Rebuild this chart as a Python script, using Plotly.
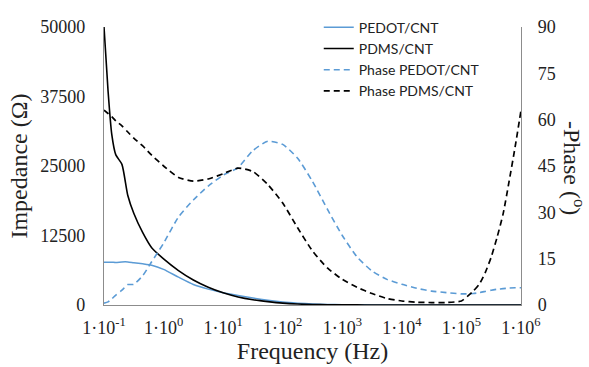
import plotly.graph_objects as go

# Frequency points (Hz)
freq = [0.1, 0.117, 0.135, 0.158, 0.2, 0.251, 0.316, 0.447, 0.631, 1, 1.78, 3.16, 5.62,
        10, 17.8, 31.6, 56.2, 100, 178, 316, 562, 1000, 1780, 3160, 5620,
        1e4, 1.78e4, 3.16e4, 5.62e4, 1e5, 1.26e5, 1.58e5, 2e5, 2.51e5, 3.16e5,
        3.98e5, 5.01e5, 6.31e5, 7.94e5, 1e6]

# Impedance (Ohm)
z_pedot = [7700, 7700, 7700, 7650, 7750, 7750, 7600, 7400, 7150, 6400, 5000, 3700, 2850,
           2200, 1700, 1250, 850, 530, 330, 190, 100, 55, 30, 18, 10,
           6, 4, 3, 2, 2, 2, 2, 2, 2, 2,
           2, 2, 2, 2, 2]
z_pdms = [50000, 38500, 30700, 27000, 25300, 19700, 16500, 13000, 10300, 8300, 6200, 4500, 3200,
          2200, 1450, 950, 600, 330, 170, 90, 45, 25, 15, 10, 6,
          4, 3, 2, 2, 1, 1, 1, 1, 1, 1,
          1, 1, 1, 1, 1]

# -Phase (degrees)
ph_pedot = [0.6, 1.0, 2.0, 3.2, 4.8, 6.6, 6.7, 9.5, 14, 20, 28.5, 34, 38.5,
            42, 44.5, 50, 53, 52, 47.5, 40, 31, 22.5, 15.5, 11, 8.3,
            6.7, 5.4, 4.5, 4.0, 3.6, 3.6, 3.7, 4.0, 4.4, 4.8,
            5.1, 5.3, 5.5, 5.6, 5.6]
ph_pdms = [63.1, 62, 61, 59.6, 58, 56, 54, 51.5, 48.5, 45, 41.3, 40.1, 40.8,
           42.5, 44.3, 43.2, 39, 33, 25, 17.5, 12, 8.3, 5.7, 3.7, 2.1,
           1.3, 0.9, 0.8, 0.8, 1.3, 2.8, 4.5, 6.8, 10.5, 15.5,
           22, 29.5, 40, 51, 63]

x_tickvals = [0.1, 1, 10, 100, 1000, 1e4, 1e5, 1e6]
x_ticktext = ["1·10<sup>-1</sup>", "1·10<sup>0</sup>", "1·10<sup>1</sup>", "1·10<sup>2</sup>",
              "1·10<sup>3</sup>", "1·10<sup>4</sup>", "1·10<sup>5</sup>", "1·10<sup>6</sup>"]

BLUE = "#5B9BD5"
BLACK = "#000000"

fig = go.Figure()
fig.add_trace(go.Scatter(x=freq, y=z_pedot, name="PEDOT/CNT", mode="lines",
                         line=dict(color=BLUE, width=1.5, shape="spline", smoothing=0.6)))
fig.add_trace(go.Scatter(x=freq, y=z_pdms, name="PDMS/CNT", mode="lines",
                         line=dict(color=BLACK, width=1.6, shape="spline", smoothing=0.6)))
fig.add_trace(go.Scatter(x=freq, y=ph_pedot, name="Phase PEDOT/CNT", mode="lines", yaxis="y2",
                         line=dict(color=BLUE, width=1.6, dash="6px,4px", shape="spline", smoothing=0.6)))
fig.add_trace(go.Scatter(x=freq, y=ph_pdms, name="Phase PDMS/CNT", mode="lines", yaxis="y2",
                         line=dict(color=BLACK, width=1.7, dash="6px,4px", shape="spline", smoothing=0.6)))

serif = "Liberation Serif"
TXT = "#222222"
fig.update_layout(
    width=589, height=367,
    margin=dict(l=104, r=68, t=15, b=62),
    paper_bgcolor="white", plot_bgcolor="white",
    font=dict(family=serif, color=TXT, size=18),
    showlegend=True,
    legend=dict(x=0.515, y=1.055, xanchor="left", yanchor="top",
                font=dict(family="Lato", size=14, color=TXT),
                bgcolor="rgba(0,0,0,0)", itemwidth=30, tracegroupgap=0),
    xaxis=dict(type="log", range=[-1, 6], tickvals=x_tickvals, ticktext=x_ticktext,
               automargin=False,
               showgrid=False, zeroline=False, showline=True, linecolor="#8c8c8c", linewidth=1.2,
               ticks="", ticklabelstandoff=6,
               tickfont=dict(family=serif, size=18, color=TXT),
               title=dict(text="Frequency (Hz)", font=dict(family=serif, size=24, color=TXT),
                          standoff=1)),
    yaxis=dict(range=[0, 50000], tickvals=[0, 12500, 25000, 37500, 50000], tickformat="d",
               automargin=False,
               showgrid=False, zeroline=False, showline=True, linecolor="#8c8c8c", linewidth=1.2,
               ticks="", ticklabelstandoff=14,
               tickfont=dict(family=serif, size=18, color=TXT),
               title=dict(text="Impedance (Ω)", font=dict(family=serif, size=24, color=TXT),
                          standoff=5)),
    yaxis2=dict(range=[0, 90], tickvals=[0, 15, 30, 45, 60, 75, 90], overlaying="y", side="right",
                automargin=False,
                showgrid=False, zeroline=False, showline=True, linecolor="#8c8c8c", linewidth=1.2,
                ticks="", ticklabelstandoff=12,
                tickfont=dict(family=serif, size=18, color=TXT)),
    annotations=[dict(text="-Phase (<sup>o</sup>)", textangle=90, xref="paper", yref="paper",
                      x=1.127, y=0.493, xanchor="center", yanchor="middle", showarrow=False,
                      font=dict(family=serif, size=24, color=TXT))],
)

fig.write_html("out.html", config={"displayModeBar": False},
               post_script="document.body.style.margin='0px';")
